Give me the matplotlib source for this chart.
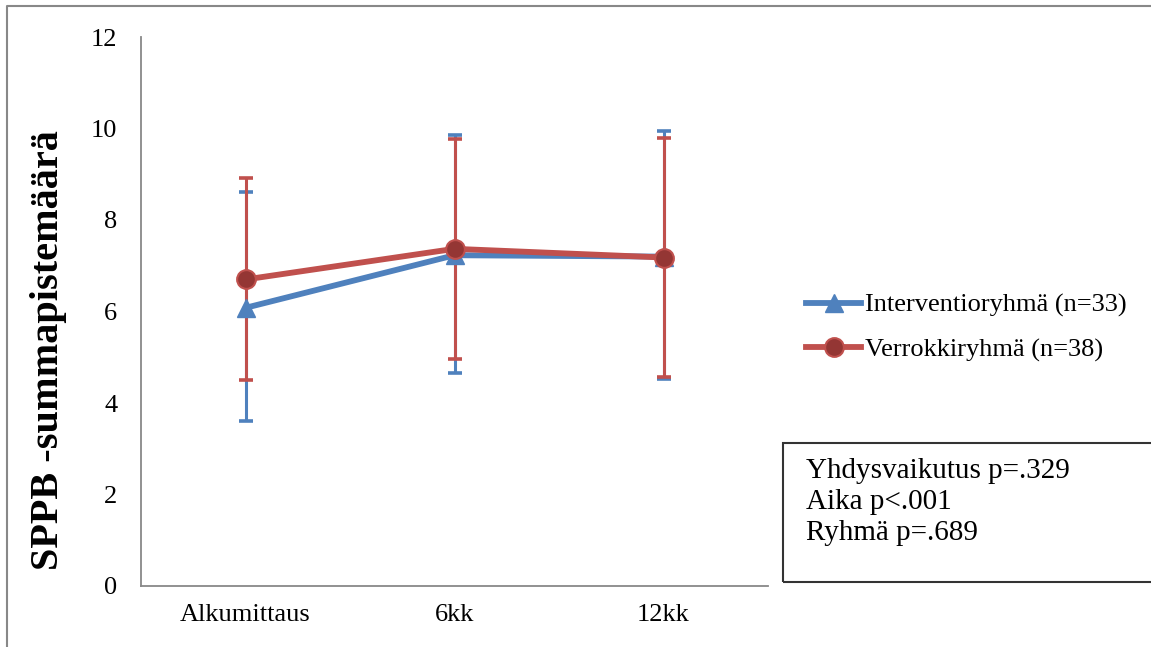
import matplotlib
matplotlib.use("Agg")
import matplotlib.pyplot as plt
from matplotlib.lines import Line2D
from matplotlib.patches import Rectangle
import numpy as np

categories = ["Alkumittaus", "6kk", "12kk"]
int_label = "Interventioryhmä (n=33)"
int_mean = [6.08, 7.23, 7.20]
int_upper = [8.61, 9.86, 9.95]
int_lower = [3.61, 4.65, 4.53]
ctrl_label = "Verrokkiryhmä (n=38)"
ctrl_mean = [6.70, 7.37, 7.18]
ctrl_upper = [8.91, 9.78, 9.80]
ctrl_lower = [4.50, 4.96, 4.56]
y_ticks = [0, 2, 4, 6, 8, 10, 12]
y_label = "SPPB -summapistemäärä"
stats_text = "Yhdysvaikutus p=.329\nAika p<.001\nRyhmä p=.689"

plt.rcParams['font.family'] = ['Liberation Serif', 'DejaVu Serif']

W, H = 1151, 647
fig = plt.figure(figsize=(W/100, H/100), dpi=100)
ax = fig.add_axes([141/W, 1-586/H, (768-141)/W, (586-37)/H])

blue = "#4F81BD"
red = "#C0504D"
dred = "#943634"
x = np.arange(len(categories))

def err(mean, lo, up):
    m = np.array(mean); return [m - np.array(lo), np.array(up) - m]

ax.errorbar(x, int_mean, yerr=err(int_mean, int_lower, int_upper), fmt='none',
            ecolor=blue, elinewidth=2.2, capsize=5.2, capthick=2.6, zorder=2)
ax.errorbar(x, ctrl_mean, yerr=err(ctrl_mean, ctrl_lower, ctrl_upper), fmt='none',
            ecolor=red, elinewidth=2.2, capsize=5.2, capthick=2.6, zorder=3)
ax.plot(x, int_mean, color=blue, lw=4.2, marker='^', ms=13, mfc=blue, mec=blue,
        zorder=4, solid_capstyle='round', label=int_label)
ax.plot(x, ctrl_mean, color=red, lw=4.2, marker='o', ms=13.5, mfc=dred, mec=red,
        mew=1.5, zorder=5, solid_capstyle='round', label=ctrl_label)

ax.set_xlim(-0.5, 2.5)
ax.set_ylim(0, 12)
ax.set_yticks(y_ticks)
ax.set_xticks(x)
ax.set_xticklabels(categories)
ax.tick_params(axis='both', length=0, labelsize=19)
ax.tick_params(axis='y', pad=17)
ax.tick_params(axis='x', pad=13)
for s in ['top', 'right']:
    ax.spines[s].set_visible(False)
for s in ['left', 'bottom']:
    ax.spines[s].set_color('#888888')
    ax.spines[s].set_linewidth(1.3)

fig.text(49/W, 1-350/H, y_label, rotation=90, fontsize=29, fontweight='bold',
         ha='center', va='center')

handles = [
    Line2D([], [], color=blue, lw=4.2, marker='^', ms=13, mfc=blue, mec=blue),
    Line2D([], [], color=red, lw=4.2, marker='o', ms=13.5, mfc=dred, mec=red, mew=1.5),
]
fig.legend(handles, [int_label, ctrl_label], loc='center left',
           bbox_to_anchor=(806/W, 1-327.5/H), frameon=False, fontsize=19,
           handlelength=2.1, handletextpad=0.15, borderpad=0, borderaxespad=0,
           labelspacing=0.78)

# stats box
fig.patches.append(Rectangle((783/W, 1-582/H), 1.1, (582-443)/H, transform=fig.transFigure,
                             fill=False, edgecolor='#333333', lw=1.5, figure=fig))
fig.text(806/W, 1-502/H, stats_text, fontsize=21, ha='left', va='center',
         linespacing=1.27)

# outer frame
fig.add_artist(Line2D([7/W, 7/W, 1.0], [0, 1-6/H, 1-6/H], transform=fig.transFigure,
                      color='#888888', lw=1.5))

fig.savefig("out.png", dpi=100)
